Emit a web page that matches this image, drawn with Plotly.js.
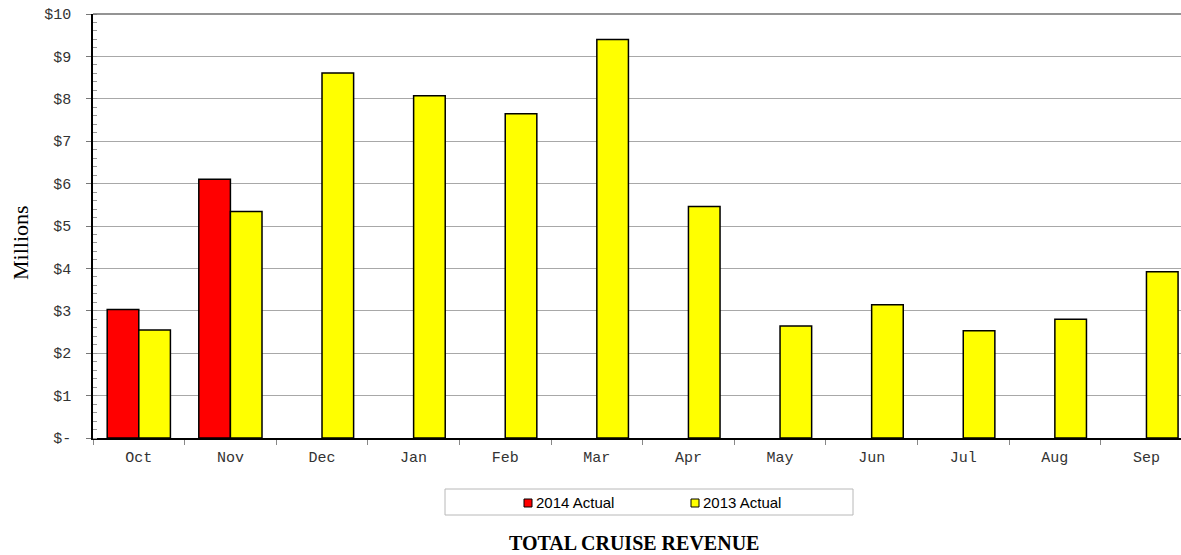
<!DOCTYPE html>
<html><head><meta charset="utf-8">
<script src="https://cdn.plot.ly/plotly-3.0.1.min.js"></script>
<style>html,body{margin:0;padding:0;background:#fff;overflow:hidden}#c{width:1181px;height:555px}</style>
</head><body><div id="c"></div>
<script>
const months = ["Oct","Nov","Dec","Jan","Feb","Mar","Apr","May","Jun","Jul","Aug","Sep"];
const actual2014 = [3.03, 6.10, null, null, null, null, null, null, null, null, null, null];
const actual2013 = [2.55, 5.34, 8.61, 8.07, 7.65, 9.40, 5.46, 2.64, 3.14, 2.53, 2.80, 3.92];
const seriesNames = ["2014 Actual", "2013 Actual"];
const seriesColors = ["#ff0000", "#ffff00"];
const yTickVals = [0,1,2,3,4,5,6,7,8,9,10];
const yTickText = ["$-","$1","$2","$3","$4","$5","$6","$7","$8","$9","$10"];

const traces = [
  {type:"bar", name:seriesNames[0], x:months, y:actual2014,
   marker:{color:seriesColors[0], line:{color:"#000", width:1.5}}},
  {type:"bar", name:seriesNames[1], x:months, y:actual2013,
   marker:{color:seriesColors[1], line:{color:"#000", width:1.5}}}
];

// legend geometry (pixels)
const L = 93, R = 1181, T = 14, B = 438;
const pw = R - L, ph = B - T;
const px = v => (v - L) / pw;
const py = v => (B - v) / ph;

const legendItems = [{sx:524, tx:534}, {sx:691, tx:701}];
const shapes = [
  {type:"rect", xref:"paper", yref:"paper", x0:px(445), x1:px(853), y0:py(515), y1:py(489),
   line:{color:"#b8b8b8", width:1}, fillcolor:"rgba(0,0,0,0)"},
  {type:"line", xref:"paper", yref:"paper", x0:0, x1:1, y0:1, y1:1, line:{color:"#707070", width:1.5}}
];
const annotations = [
  {text:"Millions", xref:"paper", yref:"paper", x:px(20), y:py(243), showarrow:false,
   textangle:-90, xanchor:"center", yanchor:"middle",
   font:{family:"Liberation Serif, Times New Roman", size:22, color:"#000"}}
];
legendItems.forEach((it, i) => {
  shapes.push({type:"rect", xref:"paper", yref:"paper", x0:px(it.sx), x1:px(it.sx+8),
    y0:py(507), y1:py(499), line:{color:"#000", width:1}, fillcolor:seriesColors[i]});
  annotations.push({text:seriesNames[i], xref:"paper", yref:"paper", x:px(it.tx), y:py(502.5),
    showarrow:false, xanchor:"left", yanchor:"middle",
    font:{family:"Liberation Sans, Arial", size:15, color:"#000"}});
});

const layout = {
  width:1181, height:555,
  margin:{l:L, r:0, t:T, b:555-B},
  paper_bgcolor:"#fff", plot_bgcolor:"#fff",
  barmode:"group", bargap:0.31, bargroupgap:0,
  showlegend:false,
  title:{text:"<b>TOTAL CRUISE REVENUE</b>", x:0.537, xanchor:"center", y:0.022, yanchor:"middle",
    font:{family:"Liberation Serif, Times New Roman", size:20, color:"#000"}},
  xaxis:{range:[-0.5, 11.377], tickson:"boundaries", ticks:"outside", ticklen:5, tickcolor:"#888",
    ticklabelstandoff:4,
    showline:true, linecolor:"#000", linewidth:1.5, showgrid:false,
    tickfont:{family:"Liberation Mono, Courier New", size:15, color:"#333"}},
  yaxis:{range:[0,10], tickvals:yTickVals, ticktext:yTickText,
    ticks:"outside", ticklen:5, tickcolor:"#777", ticklabelstandoff:12,
    showline:true, linecolor:"#000", linewidth:1.5,
    showgrid:true, gridcolor:"#a8a8a8", gridwidth:1, zeroline:false,
    minor:{dtick:0.2, ticks:"inside", ticklen:4, tickcolor:"#999", showgrid:false},
    tickfont:{family:"Liberation Mono, Courier New", size:15, color:"#333"}},
  shapes:shapes,
  annotations:annotations
};
Plotly.newPlot("c", traces, layout, {displayModeBar:false});
</script></body></html>
